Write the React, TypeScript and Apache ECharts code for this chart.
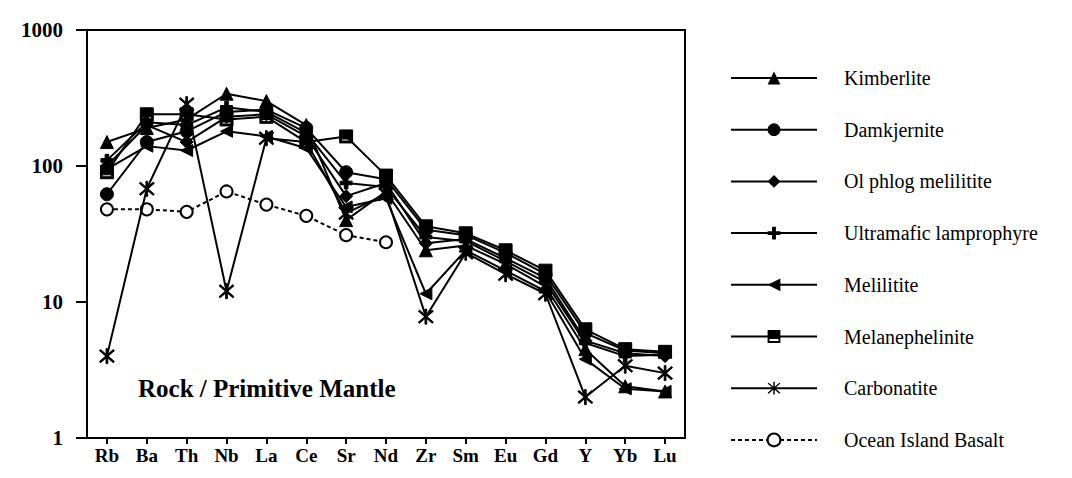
import React, { useEffect, useRef } from "react";
import * as echarts from "echarts";

const elements = ["Rb", "Ba", "Th", "Nb", "La", "Ce", "Sr", "Nd", "Zr", "Sm", "Eu", "Gd", "Y", "Yb", "Lu"];
const yTicks = [1, 10, 100, 1000];

const kimberlite = [150, 190, 220, 340, 300, 200, 40, 65, 24, 26, 19, 13, 4.5, 2.4, 2.2];
const damkjernite = [62, 150, 180, 250, 260, 190, 90, 80, 34, 31, 23, 16, 5.9, 4.4, 4.2];
const olPhlogMelilitite = [100, 200, 150, 230, 240, 165, 60, 75, 27, 29, 21, 15, 5.2, 4.2, 4.0];
const ultramaficLamprophyre = [110, 210, 200, 270, 250, 175, 75, 70, 30, 28, 20, 14, 5.0, 4.0, 4.1];
const melilitite = [95, 140, 130, 180, 165, 135, 50, 58, 11.5, 24, 17, 12, 3.8, 2.3, 2.2];
const melanephelinite = [90, 240, 240, 220, 230, 150, 165, 85, 36, 32, 24, 17, 6.3, 4.5, 4.3];
const carbonatite = [4, 68, 285, 12, 160, 150, 45, 62, 7.8, 23, 16, 11.5, 2.0, 3.4, 3.0];
const oceanIslandBasalt = [48, 48, 46, 65, 52, 43, 31, 27.5];

const seriesNames = [
  "Kimberlite",
  "Damkjernite",
  "Ol phlog melilitite",
  "Ultramafic lamprophyre",
  "Melilitite",
  "Melanephelinite",
  "Carbonatite",
  "Ocean Island Basalt",
];

const CROSS = "path://M7,0 L13,0 L13,7 L20,7 L20,13 L13,13 L13,20 L7,20 L7,13 L0,13 L0,7 L7,7 Z";
const LEFT_TRI = "path://M0,10 L20,0 L20,20 Z";
const SQUARE_STRIPE = "path://M0,0 L20,0 L20,20 L0,20 Z M3,14 L3,17 L17,17 L17,14 Z";
const ASTERISK =
  "path://M9,0 L11,0 L11,20 L9,20 Z M2.7,1.3 L18.7,17.3 L17.3,18.7 L1.3,2.7 Z M17.3,1.3 L18.7,2.7 L2.7,18.7 L1.3,17.3 Z";

const SERIF = "'Liberation Serif', 'Times New Roman', serif";

export default function App() {
  const ref = useRef<HTMLDivElement>(null);

  useEffect(() => {
    if (!ref.current) return;
    const chart = echarts.init(ref.current, undefined, { renderer: "svg" });

    const lineSeries = (name: string, data: number[], symbol: string, size: number, extra: any = {}) => ({
      name,
      type: "line",
      data,
      symbol,
      symbolSize: size,
      showSymbol: true,
      lineStyle: { color: "#000", width: 2, type: "solid" },
      itemStyle: { color: "#000", borderColor: "#000" },
      emphasis: { disabled: true },
      z: 3,
      ...extra,
    });

    const option: any = {
      animation: false,
      backgroundColor: "#fff",
      grid: {
        left: 87,
        right: 387,
        top: 30,
        bottom: 40,
        show: true,
        borderColor: "#000",
        borderWidth: 2,
        backgroundColor: "transparent",
      },
      legend: {
        orient: "vertical",
        left: 730,
        top: 68,
        padding: 0,
        itemWidth: 86,
        itemHeight: 16,
        itemGap: 31.7,
        data: seriesNames,
        selectedMode: false,
        textStyle: {
          color: "#000",
          fontFamily: SERIF,
          fontSize: 20,
          lineHeight: 20,
          padding: [0, 0, 0, 22],
        },
      },
      xAxis: {
        type: "category",
        data: elements,
        boundaryGap: true,
        axisLine: { lineStyle: { color: "#000", width: 2 } },
        axisTick: { show: true, alignWithLabel: true, length: 6, lineStyle: { color: "#000", width: 2 } },
        axisLabel: {
          color: "#000",
          fontFamily: SERIF,
          fontWeight: "bold",
          fontSize: 19,
          margin: 8,
          interval: 0,
        },
        splitLine: { show: false },
      },
      yAxis: {
        type: "log",
        logBase: 10,
        min: yTicks[0],
        max: yTicks[yTicks.length - 1],
        axisLine: { show: true, lineStyle: { color: "#000", width: 2 } },
        axisTick: { show: true, length: 11, lineStyle: { color: "#000", width: 2 } },
        axisLabel: {
          color: "#000",
          fontFamily: SERIF,
          fontWeight: "bold",
          fontSize: 21,
          margin: 24,
          formatter: (v: number) => String(Math.round(v)),
        },
        splitLine: { show: false },
        minorTick: { show: false },
      },
      graphic: [
        {
          type: "text",
          left: 138,
          top: 376,
          style: {
            text: "Rock / Primitive Mantle",
            fill: "#000",
            font: `bold 25px ${SERIF}`,
          },
        },
      ],
      series: [
        lineSeries(seriesNames[0], kimberlite, "triangle", 13),
        lineSeries(seriesNames[1], damkjernite, "circle", 13),
        lineSeries(seriesNames[2], olPhlogMelilitite, "diamond", 13),
        lineSeries(seriesNames[3], ultramaficLamprophyre, CROSS, 12),
        lineSeries(seriesNames[4], melilitite, LEFT_TRI, 12),
        lineSeries(seriesNames[5], melanephelinite, SQUARE_STRIPE, 13),
        lineSeries(seriesNames[6], carbonatite, ASTERISK, 15),
        lineSeries(seriesNames[7], oceanIslandBasalt, "emptyCircle", 12, {
          lineStyle: { color: "#000", width: 2, type: [4, 3] },
          itemStyle: { color: "#000", borderColor: "#000", borderWidth: 3 },
          z: 2,
        }),
      ],
    };

    chart.setOption(option);
    return () => chart.dispose();
  }, []);

  return (
    <div
      ref={ref}
      style={{ position: "fixed", left: 0, top: 0, width: 1072, height: 478, background: "#fff" }}
    />
  );
}
